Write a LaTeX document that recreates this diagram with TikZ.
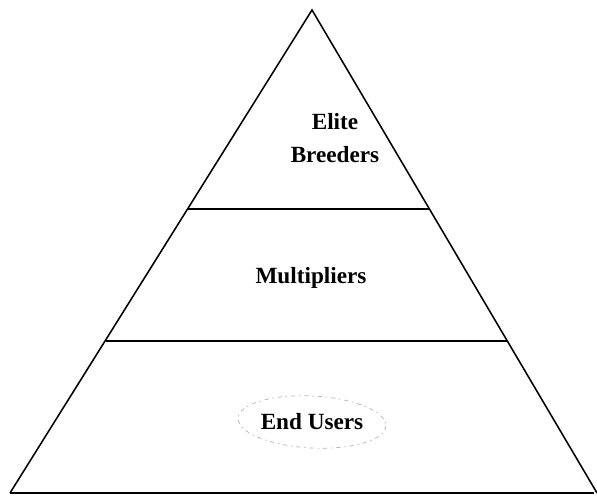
\documentclass[tikz,border=0pt]{standalone}
\usepackage{fontspec}
\setmainfont{Liberation Serif}
\usetikzlibrary{positioning}

\begin{document}
\begin{tikzpicture}[x=0.025cm, y=-0.025cm,
    tier/.style={font=\fontsize{16.5}{23}\selectfont\bfseries, align=center,
                 inner sep=1pt},
    edge/.style={line width=1.1pt, black},
    scrawl/.style={gray!60, line width=0.5pt, dash pattern=on 3pt off 2.5pt on 1pt off 3pt}
  ]
    \useasboundingbox (0,0) rectangle (597,497);

    % outline of the pyramid
    \coordinate (top) at (312,10);
    \coordinate (bl) at (10,493);
    \coordinate (br) at (597,493);
    \draw[edge, line join=miter] (bl) -- (top) -- (br);
    \draw[edge] (bl) -- (594,493);

    % tier dividers
    \draw[edge] (188,209) -- (429,209);
    \draw[edge] (106,341) -- (508,341);

    \node[tier] (elite) at (335,138) {Elite\\Breeders};
    \node[tier] (mult) at (311,278) {Multipliers};
    \node[tier] (users) at (312,422) {End Users};

    % faint pencil loop round the bottom tier label
    \draw[scrawl, rotate around={-3:(users.center)}] (users.center) ellipse (74 and 26);
  \end{tikzpicture}
\end{document}
